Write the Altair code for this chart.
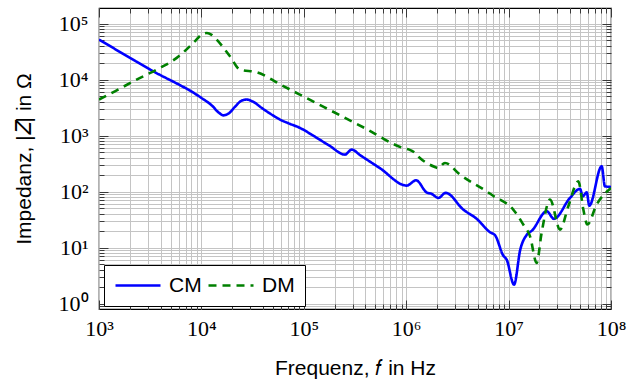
import altair as alt
import pandas as pd

# ---------------- data ----------------
cm_freq = [1.0e3, 3.16e3, 1.0e4, 1.26e4, 1.48e4, 1.64e4, 1.86e4, 2.14e4, 2.45e4, 2.77e4,
           3.16e4, 3.98e4, 5.01e4, 5.86e4, 7.08e4, 9.18e4, 1.26e5, 1.78e5, 2.52e5, 2.94e5,
           3.55e5, 5.52e5, 1.01e6, 1.25e6, 1.58e6, 1.77e6, 2.06e6, 2.43e6, 3.61e6, 4.88e6,
           6.58e6, 7.36e6, 8.87e6, 9.57e6, 1.13e7, 1.30e7, 1.51e7, 1.69e7, 2.36e7, 2.77e7,
           3.98e7, 4.98e7, 5.30e7, 5.79e7, 6.14e7, 8.11e7, 8.73e7, 1.0e8]
cm_imp = [5.2e4, 1.51e4, 4710, 3470, 2570, 2300, 2510, 3310, 4170, 4400,
          4070, 3020, 2290, 1930, 1660, 1370, 977, 661, 458, 562,
          447, 263, 128, 159, 97, 91, 77, 95, 47.7, 32.6,
          18.8, 16.7, 7.2, 6.1, 2.18, 9.2, 17.1, 20.1, 44.5, 32.6,
          77.3, 112, 82.4, 97.2, 56.2, 283, 124, 121]

dm_freq = [1.0e3, 1.43e3, 2.33e3, 3.66e3, 5.74e3, 8.34e3, 1.0e4, 1.13e4, 1.26e4, 1.41e4,
           1.90e4, 2.38e4, 3.47e4, 6.31e4, 1.58e5, 3.98e5, 9.55e5, 1.07e6, 1.20e6, 1.36e6,
           1.91e6, 2.04e6, 2.39e6, 3.35e6, 6.11e6, 7.64e6, 8.24e6, 1.11e7, 1.39e7, 1.62e7,
           1.88e7, 2.10e7, 2.54e7, 3.18e7, 3.83e7, 4.80e7, 5.37e7, 5.87e7, 7.24e7, 1.0e8]
dm_imp = [4400, 6180, 1.0e4, 1.51e4, 2.44e4, 4.52e4, 6.3e4, 6.8e4, 6.3e4, 5.18e4,
          2.61e4, 1.51e4, 1.35e4, 7670, 3220, 1350, 593, 562, 501, 398,
          275, 263, 325, 201, 101, 77, 72, 47.8, 25.8, 15.9,
          5.33, 18.3, 72, 20.9, 54.7, 153, 47.8, 25.8, 58.6, 116]

series_names = ["CM", "DM"]
series_colors = ["#0000ff", "#008000"]

x_decades = [1e3, 1e4, 1e5, 1e6, 1e7, 1e8]
x_labels = ["10³", "10⁴", "10⁵", "10⁶", "10⁷", "10⁸"]
y_decades = [1, 10, 100, 1e3, 1e4, 1e5]
y_labels = ["10⁰", "10¹", "10²", "10³", "10⁴", "10⁵"]

x_domain = [1e3, 1e8]
y_domain = [0.8, 1.9e5]

x_title = "Frequenz, 𝑓 in Hz"
y_title = "Impedanz, |𝑍| in Ω"

# ---------------- table ----------------
df = pd.concat([
    pd.DataFrame({"series": series_names[0], "f": cm_freq, "z": cm_imp}),
    pd.DataFrame({"series": series_names[1], "f": dm_freq, "z": dm_imp}),
], ignore_index=True)


def minor_values(decades, lo, hi):
    vals = []
    for d in [decades[0] / 10] + decades:
        for k in range(2, 10):
            v = k * d
            if lo < v < hi and v not in decades:
                vals.append(v)
    return vals


x_minor = minor_values(x_decades, *x_domain)
y_minor = minor_values(y_decades, *y_domain)
x_all = sorted(x_decades + x_minor)
y_all = sorted(y_decades + y_minor)


def label_expr(decs, labels):
    expr = "''"
    for d, l in reversed(list(zip(decs, labels))):
        expr = f"abs(datum.value - {d}) < {d} * 1e-6 ? '{l}' : " + expr
    return expr


SERIF = "Liberation Serif"
SANS = "Liberation Sans"
GRID = "#c4c4c4"
TICK = "#3a3a3a"

xscale = alt.Scale(type="log", domain=x_domain, nice=False)
yscale = alt.Scale(type="log", domain=y_domain, nice=False)

legend = alt.Legend(
    orient="none", legendX=5, legendY=257, direction="horizontal", title=None,
    symbolType="stroke", symbolSize=2025, symbolStrokeWidth=2.6,
    labelFont=SANS, labelFontSize=21, labelColor="black",
    strokeColor="black", fillColor="white", padding=10, clipHeight=21,
    columnPadding=5, labelOffset=7, cornerRadius=0, symbolOffset=0,
)

main = alt.Chart(df).mark_line(interpolate="monotone", strokeWidth=2.6, clip=True).encode(
    x=alt.X("f:Q", scale=xscale, axis=alt.Axis(
        orient="bottom", values=x_all, labelExpr=label_expr(x_decades, x_labels),
        labelFont=SERIF, labelFontSize=22, labelColor="black", labelPadding=9,
        labelOverlap=False, labelFlush=False, ticks=False, domain=False,
        grid=True, gridColor=GRID, gridWidth=1,
        title=x_title, titleFont=SANS, titleFontSize=21, titleFontWeight="normal",
        titleColor="black", titlePadding=18)),
    y=alt.Y("z:Q", scale=yscale, axis=alt.Axis(
        orient="left", values=y_all, labelExpr=label_expr(y_decades, y_labels),
        labelFont=SERIF, labelFontSize=22, labelColor="black", labelPadding=11,
        labelOverlap=False, labelFlush=False, ticks=False, domain=False,
        grid=True, gridColor=GRID, gridWidth=1,
        title=y_title, titleFont=SANS, titleFontSize=21, titleFontWeight="normal",
        titleColor="black", titlePadding=24)),
    color=alt.Color("series:N", scale=alt.Scale(domain=series_names, range=series_colors),
                    legend=legend),
    strokeDash=alt.StrokeDash("series:N", scale=alt.Scale(domain=series_names, range=[[1, 0], [8, 6]]),
                              legend=legend),
)


def tick_axis(orient, values, size):
    return alt.Axis(orient=orient, values=values, offset=-size, tickSize=size,
                    tickColor=TICK, tickWidth=1, ticks=True, labels=False,
                    domain=False, grid=False, title=None)


def tick_layer(xo, yo, xv, yv, size):
    return alt.Chart(df).mark_point(opacity=0).encode(
        x=alt.X("f:Q", scale=xscale, axis=tick_axis(xo, xv, size)),
        y=alt.Y("z:Q", scale=yscale, axis=tick_axis(yo, yv, size)),
    )


layers = [
    main,
    tick_layer("bottom", "left", x_decades, y_decades, 9),
    tick_layer("bottom", "left", x_minor, y_minor, 5),
    tick_layer("top", "right", x_decades, y_decades, 9),
    tick_layer("top", "right", x_minor, y_minor, 5),
]

chart = alt.layer(*layers).resolve_axis(x="independent", y="independent").properties(
    width=512, height=301,
    autosize=alt.AutoSizeParams(type="none"),
    padding={"left": 99, "top": 8, "right": 25, "bottom": 70},
    background="white",
).configure_view(stroke="black", strokeWidth=1.2)

chart.save("out.html", embed_options={"renderer": "svg", "actions": False})
